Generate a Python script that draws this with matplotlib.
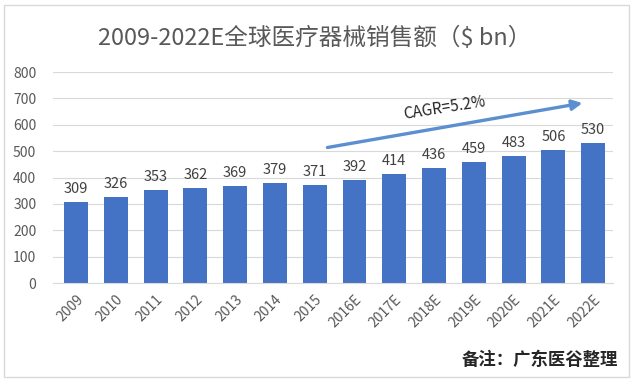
import matplotlib.pyplot as plt
from matplotlib.patches import Rectangle

plt.rcParams['font.family'] = ['Noto Sans CJK SC', 'DejaVu Sans']

years = ['2009', '2010', '2011', '2012', '2013', '2014', '2015',
         '2016E', '2017E', '2018E', '2019E', '2020E', '2021E', '2022E']
sales = [309, 326, 353, 362, 369, 379, 371, 392, 414, 436, 459, 483, 506, 530]
yticks = [0, 100, 200, 300, 400, 500, 600, 700, 800]

fig = plt.figure(figsize=(6.35, 3.83), dpi=100)
ax = fig.add_axes([0.0835, 0.261, 0.882, 0.551])

x = range(len(years))
ax.bar(x, sales, width=0.6, color='#4472C4', zorder=2)
for i, v in enumerate(sales):
    ax.text(i, v + 22, str(v), ha='center', va='bottom', fontsize=10.5, color='#404040')

ax.set_xlim(-0.58, len(years) - 0.5)
ax.set_ylim(0, 800)
ax.set_yticks(yticks)
ax.set_xticks(list(x))
ax.set_xticklabels(years, rotation=45, ha='right', rotation_mode='anchor')
ax.tick_params(axis='both', length=0, colors='#595959', labelsize=10)
ax.tick_params(axis='y', pad=12)
ax.tick_params(axis='x', pad=7)
ax.grid(axis='y', color='#D9D9D9', linewidth=0.8, zorder=0)
for s in ['top', 'right', 'left']:
    ax.spines[s].set_visible(False)
ax.spines['bottom'].set_color('#D9D9D9')

# CAGR arrow
ax.annotate('', xy=(12.8, 684), xytext=(6.25, 512),
            arrowprops=dict(arrowstyle='-|>', color='#5B8FD0', lw=2.4,
                            mutation_scale=15))
ax.text(9.25, 665, 'CAGR=5.2%', fontsize=11, color='#262626', rotation=9,
        ha='center', va='center')

fig.text(0.495, 0.9, '2009-2022E全球医疗器械销售额（$ bn）', ha='center', va='center',
         fontsize=17, color='#595959')
fig.text(0.973, 0.06, '备注：广东医谷整理', ha='right', va='center',
         fontsize=12.5, color='#262626', fontweight='bold')

fig.patches.append(Rectangle((0.006, 0.015), 0.985, 0.972, transform=fig.transFigure,
                             fill=False, edgecolor='#D9D9D9', linewidth=1))

fig.savefig('out.png', dpi=100)
